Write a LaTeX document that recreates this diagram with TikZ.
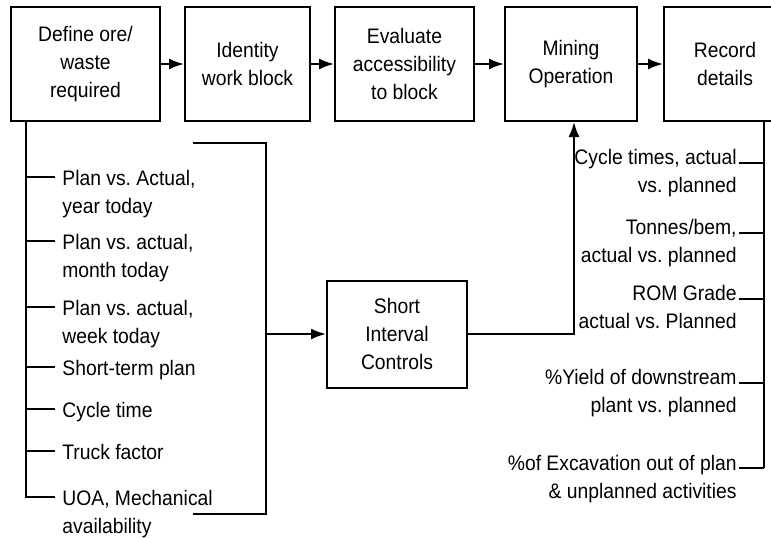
\documentclass[tikz,border=0pt]{standalone}
\usepackage{fontspec}
\setmainfont{Liberation Sans}[FakeStretch=0.92]
\usepackage{tikz}
\usetikzlibrary{arrows.meta}
\newcommand{\letra}{\fontsize{10.5}{14}\selectfont}
\tikzstyle{etapa}=[draw, line width=1pt, minimum height=57pt, inner sep=0pt,
  align=center, font=\letra, anchor=west]
\tikzstyle{control}=[etapa, minimum width=70pt, minimum height=53.5pt,
  anchor=center]
\tikzstyle{texto}=[inner sep=0pt, font=\letra]
\tikzstyle{linea}=[draw, line width=1pt]
\tikzstyle{flecha}=[draw, line width=1pt, -{Latex[length=7.5pt,width=5.5pt]}]
\newcommand{\etapa}[3]{node (p#1) [etapa, minimum width=#2] {#3}}
% tick from the left spine to the first line of an item
\newcommand{\marcaizq}[2]{%
  \path ([shift={(-3.5pt,#2)}]#1.base west) coordinate (#1k);
  \path [linea] (#1k) -- (#1k -| lspine);}
% tick from the right spine to the first line of an item
\newcommand{\marcader}[2]{%
  \path ([shift={(0.75pt,#2)}]#1.base east) coordinate (#1k);
  \path [linea] (#1k) -- (#1k -| rspine);}
\begin{document}
\begin{tikzpicture}[x=0.5pt, y=-0.5pt]
  \useasboundingbox (0,0) rectangle (771,537);

  % Top row of steps
  \path (10,64) \etapa{Define}{74.5pt}{Define ore/\\waste\\required};
  \path (pDefine.east)+(23,0) \etapa{Identity}{62.5pt}{Identity\\work block};
  \path (pIdentity.east)+(23,0) \etapa{Evaluate}{69.5pt}{Evaluate\\accessibility\\to block};
  \path (pEvaluate.east)+(29,0) \etapa{Mining}{66pt}{Mining\\Operation};
  \path (pMining.east)+(25,0) \etapa{Record}{61pt}{Record\\details};

  \path (397,334) node (pControl) [control] {Short\\Interval\\Controls};

  \coordinate (lspine) at (26,121);
  \coordinate (rspine) at (764,121);

  % Left list (base = last line)
  \path (62,213) node (l1) [texto, anchor=base west, align=left] {Plan vs.\ Actual,\\year today};
  \path (62,277) node (l2) [texto, anchor=base west, align=left] {Plan vs.\ actual,\\month today};
  \path (62,343) node (l3) [texto, anchor=base west, align=left] {Plan vs.\ actual,\\week today};
  \path (62,375) node (l4) [texto, anchor=base west] {Short-term plan};
  \path (62,417) node (l5) [texto, anchor=base west] {Cycle time};
  \path (62,459) node (l6) [texto, anchor=base west] {Truck factor};
  \path (62,533) node (l7) [texto, anchor=base west, align=left] {UOA, Mechanical\\availability};

  % Right list
  \path (737,192) node (r1) [texto, anchor=base east, align=right] {Cycle times, actual\\vs.\ planned};
  \path (737,262) node (r2) [texto, anchor=base east, align=right] {Tonnes/bem,\\actual vs.\ planned};
  \path (737,328) node (r3) [texto, anchor=base east, align=right] {ROM Grade\\actual vs.\ Planned};
  \path (737,412) node (r4) [texto, anchor=base east, align=right] {\%Yield of downstream\\plant vs.\ planned};
  \path (737,498) node (r5) [texto, anchor=base east, align=right] {\%of Excavation out of plan\\\& unplanned activities};

  % Ticks and spines
  \marcaizq{l1}{18pt} \marcaizq{l2}{18pt} \marcaizq{l3}{18pt} \marcaizq{l4}{4pt}
  \marcaizq{l5}{4pt} \marcaizq{l6}{4pt} \marcaizq{l7}{18pt}
  \path [linea] (pDefine.south -| lspine) -- (lspine |- l7k) -- (l7k);

  \marcader{r1}{14.5pt} \marcader{r2}{14.5pt} \marcader{r3}{14.5pt}
  \marcader{r4}{14.5pt} \marcader{r5}{15pt}
  \path [linea] (pRecord.south -| rspine) -- (rspine |- r5k);

  % Bracket gathering the left list
  \coordinate (bTop) at (193,143);
  \coordinate (bBot) at (193,514);
  \coordinate (bEdge) at (266,334);
  \path [linea] (bTop) -| (bEdge) |- (bBot);

  % Arrows
  \path [flecha] (pDefine) -- (pIdentity);
  \path [flecha] (pIdentity) -- (pEvaluate);
  \path [flecha] (pEvaluate) -- (pMining);
  \path [flecha] (pMining) -- (pRecord);
  \path [flecha] (bEdge) -- (pControl.west);
  \path [flecha] (pControl.east) -| ([xshift=1.5pt]pMining.south);
\end{tikzpicture}
\end{document}
